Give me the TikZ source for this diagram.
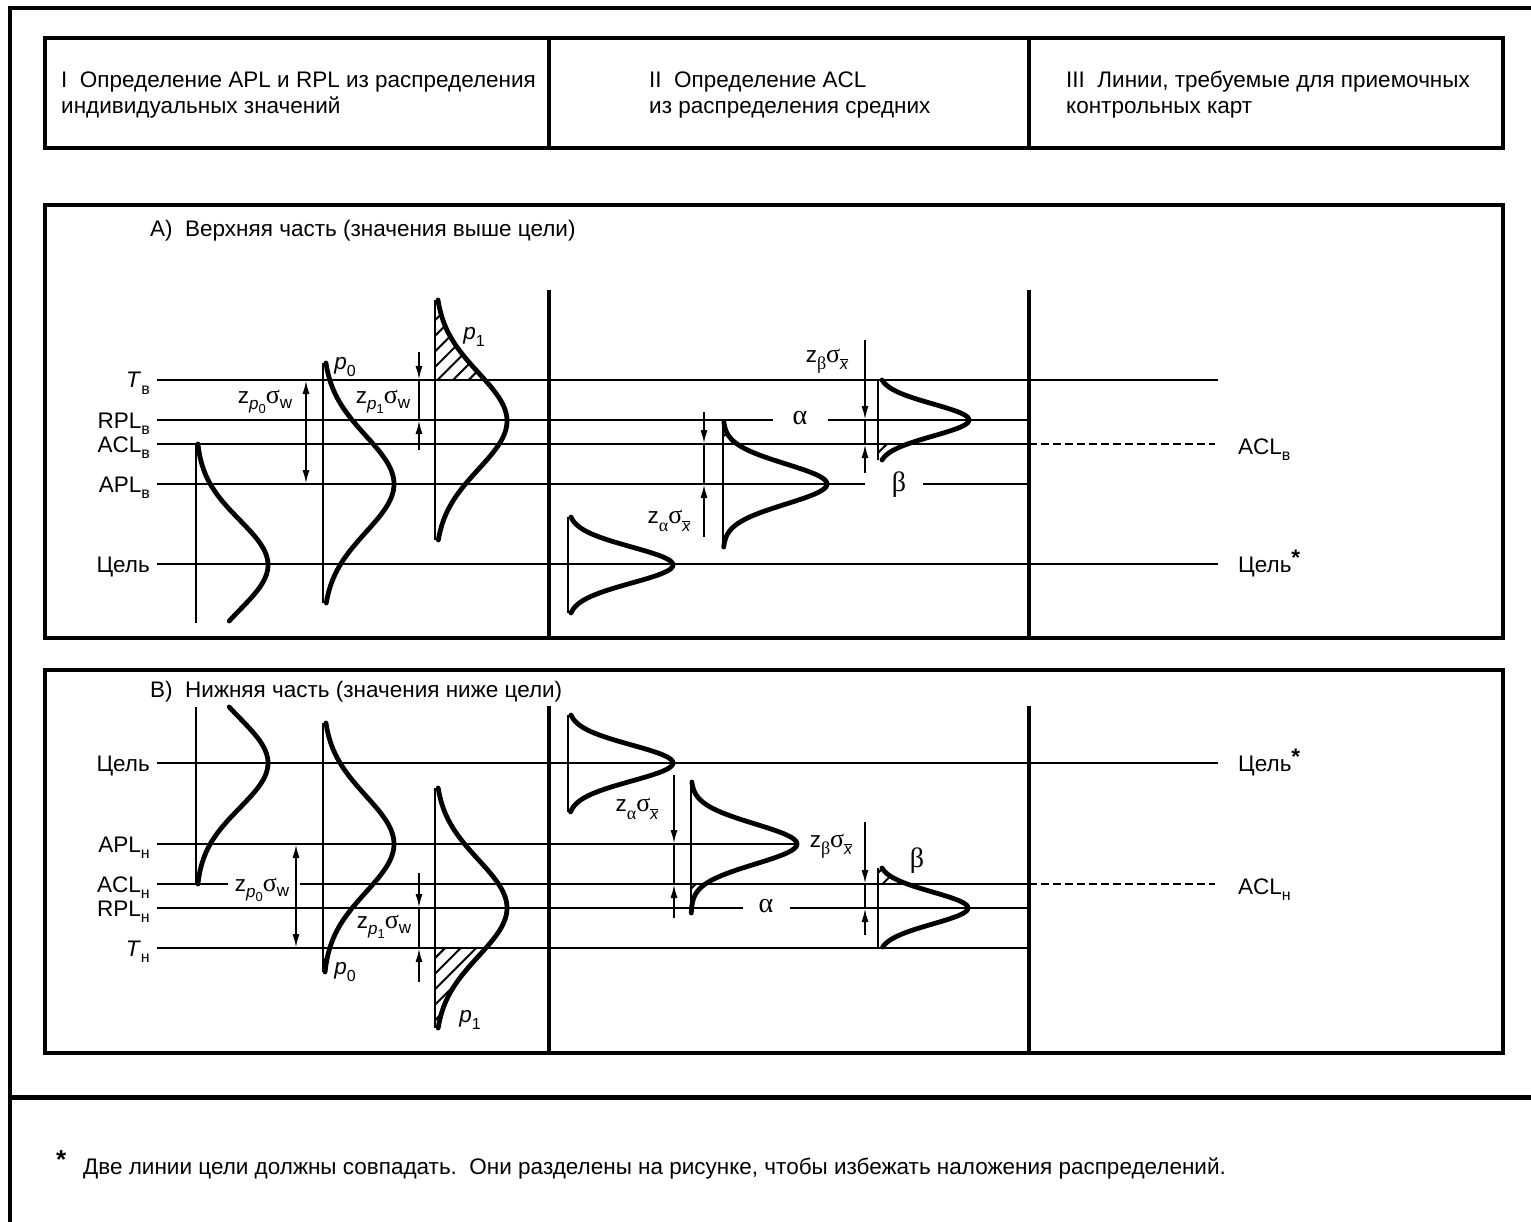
\documentclass[tikz,border=0pt]{standalone}
\usepackage{fontspec}
\setmainfont{Liberation Sans}
\newfontfamily\grkfont{Liberation Serif}
\usetikzlibrary{arrows.meta,patterns.meta}

\newcommand\lsub[1]{\raisebox{-0.28em}{\fontsize{16}{16}\selectfont #1}}
\newcommand\zpsig[1]{z\raisebox{-0.28em}{\fontsize{17}{17}\selectfont\textit{p}\raisebox{-0.25em}{\fontsize{13}{13}\selectfont #1}}{\fontsize{26}{26}\selectfont\grkfont σ}\raisebox{-0.22em}{\fontsize{17}{17}\selectfont w}}
\newcommand\zgsig[1]{z\raisebox{-0.32em}{\fontsize{18}{18}\selectfont\grkfont #1}{\fontsize{26}{26}\selectfont\grkfont σ}\raisebox{-0.32em}{\fontsize{16}{16}\selectfont$\overline{\mbox{\itshape x}}$}}
\newcommand\pl[1]{\textit{p}\lsub{#1}}

\begin{document}
\begin{tikzpicture}[x=1pt,y=-1pt,
  font=\fontsize{22.5}{27}\selectfont,
  lvl/.style={line width=2.5pt},
  frm/.style={line width=4pt},
  crv/.style={line width=4.8pt, line cap=round, line join=round},
  ax/.style={line width=2.5pt},
  hatch/.style={pattern={Lines[angle=45,distance=11pt,line width=2pt]}},
  dim/.style={line width=2pt},
  dimtip/.style={-{Latex[length=14pt,width=7pt]}},
  dbltip/.style={{Latex[length=14pt,width=7pt]}-{Latex[length=14pt,width=7pt]}},
  lab/.style={anchor=base east, inner sep=0pt},
  rlab/.style={anchor=base west, inner sep=0pt},
  txt/.style={anchor=base west, inner sep=0pt},
  gr/.style={font=\fontsize{28}{28}\selectfont\grkfont, inner sep=0pt},
  dl/.style={inner sep=0pt},
  declare function={gs(\a,\b,\c)=exp(-0.5*((\a-\b)/\c)*((\a-\b)/\c));}
]
\useasboundingbox (0,0) rectangle (1531,1222);

% outer frame
\draw[line width=4pt] (10,1222) -- (10,8) -- (1531,8);
\draw[line width=5pt] (10,1097) -- (1531,1097);

% header
\draw[frm] (45,38) rectangle (1503,148);
\draw[frm] (549,38) -- (549,148);
\draw[frm] (1029,38) -- (1029,148);
\node[txt] (h1a) at (61,88) {I\ \ Определение APL и RPL из распределения};
\node[txt] (h1b) at (61,114) {индивидуальных значений};
\node[txt] (h2a) at (649,88) {II\ \ Определение ACL};
\node[txt] (h2b) at (649,114) {из распределения средних};
\node[txt] (h3a) at (1066,88) {III\ \ Линии, требуемые для приемочных};
\node[txt] (h3b) at (1066,114) {контрольных карт};

% ===================== Panel A =====================
\draw[frm] (45,205) rectangle (1503,638);
\draw[frm] (549,290) -- (549,638);
\draw[frm] (1029,290) -- (1029,638);
\node[txt] (ta) at (150,237) {А)\ \ Верхняя часть (значения выше цели)};

% hatches
\fill[hatch] (435,300) -- plot[domain=300:380,samples=30] ({435+72*gs(\x,421,48)},\x) -- (435,380) -- cycle;
\fill[hatch] (723,422) -- plot[domain=422:444,samples=20] ({723+104*gs(\x,484,20)},\x) -- (723,444) -- cycle;
\fill[hatch] (878,444) -- plot[domain=444:460,samples=20] ({878+91*gs(\x,420,16)},\x) -- (878,460) -- cycle;

% level lines
\draw[lvl] (157,380) -- (1218,380);
\draw[lvl] (157,420) -- (773,420);
\draw[lvl] (828,420) -- (1029,420);
\draw[lvl] (157,444) -- (1029,444);
\draw[lvl, dash pattern=on 8pt off 4pt, line width=2pt] (1029,444) -- (1215,444);
\draw[lvl] (157,484) -- (865,484);
\draw[lvl] (923,484) -- (1029,484);
\draw[lvl] (157,564) -- (1218,564);

\node[lab] (tv) at (150,388) {\textit{T}\lsub{в}};
\node[lab] (rv) at (150,428) {RPL\lsub{в}};
\node[lab] (av) at (150,452) {ACL\lsub{в}};
\node[lab] (pv) at (150,492) {APL\lsub{в}};
\node[lab] (cv) at (150,572) {Цель};
\node[rlab] (av2) at (1238,454) {ACL\lsub{в}};
\node[rlab] (cv2) at (1238,572) {Цель\raisebox{0.3em}{\textbf{*}}};

% axes
\draw[ax] (196,444) -- (196,623);
\draw[ax] (323,363) -- (323,603);
\draw[ax] (435,300) -- (435,540);
\draw[ax] (568,517) -- (568,613);
\draw[ax] (723,422) -- (723,547);
\draw[ax] (878,380) -- (878,460);

% curves
\draw[crv] plot[domain=444:621,samples=70] ({196+72*gs(\x,565,45)},\x);
\draw[crv] plot[domain=363:603,samples=80] ({323+71*gs(\x,484,48)},\x);
\draw[crv] plot[domain=300:540,samples=80] ({435+72*gs(\x,421,48)},\x);
\draw[crv] plot[domain=517:613,samples=60] ({568+105*gs(\x,565,18)},\x);
\draw[crv] plot[domain=422:547,samples=70] ({723+104*gs(\x,484,20)},\x);
\draw[crv] plot[domain=380:460,samples=60] ({878+91*gs(\x,420,16)},\x);

% dimension arrows
\draw[dim,dbltip] (306,380) -- (306,484);
\draw[dim,dimtip] (419,352) -- (419,380);
\draw[dim] (419,380) -- (419,420);
\draw[dim,dimtip] (419,450) -- (419,420);
\draw[dim,dimtip] (704,412) -- (704,444);
\draw[dim] (704,444) -- (704,484);
\draw[dim,dimtip] (704,537) -- (704,484);
\draw[dim,dimtip] (865,340) -- (865,420);
\draw[dim] (865,420) -- (865,444);
\draw[dim,dimtip] (865,473) -- (865,444);

\node[dl] (za1) at (265,402) {\zpsig{0}};
\node[dl] (za2) at (383,402) {\zpsig{1}};
\node[dl] (za3) at (669,521) {\zgsig{α}};
\node[dl] (za4) at (827,361) {\zgsig{β}};
\node[dl] (pa0) at (345,367) {\pl{0}};
\node[dl] (pa1) at (474,337) {\pl{1}};
\node[gr] (al1) at (800,418) {α};
\node[gr] (be1) at (899,485) {β};

% ===================== Panel B =====================
\draw[frm] (45,670) rectangle (1503,1053);
\draw[frm] (549,706) -- (549,1053);
\draw[frm] (1029,706) -- (1029,1053);
\node[txt] (tb) at (150,697) {В)\ \ Нижняя часть (значения ниже цели)};

% hatches
\fill[hatch] (323,948) -- plot[domain=948:972,samples=20] ({323+71*gs(\x,844,48)},\x) -- (323,972) -- cycle;
\fill[hatch] (435,948) -- plot[domain=948:1028,samples=30] ({435+72*gs(\x,908,48)},\x) -- (435,1028) -- cycle;
\fill[hatch] (691,884) -- plot[domain=884:913,samples=20] ({691+106*gs(\x,844,20)},\x) -- (691,913) -- cycle;
\fill[hatch] (878,868) -- plot[domain=868:884,samples=20] ({878+90*gs(\x,908,16)},\x) -- (878,884) -- cycle;

% level lines
\draw[lvl] (157,763) -- (1218,763);
\draw[lvl] (157,844) -- (797,844);
\draw[lvl] (157,884) -- (228,884);
\draw[lvl] (300,884) -- (1029,884);
\draw[lvl, dash pattern=on 8pt off 4pt, line width=2pt] (1029,884) -- (1215,884);
\draw[lvl] (157,908) -- (743,908);
\draw[lvl] (790,908) -- (1029,908);
\draw[lvl] (157,948) -- (1029,948);

\node[lab] (cn) at (150,771) {Цель};
\node[lab] (pn) at (150,852) {APL\lsub{н}};
\node[lab] (an) at (150,892) {ACL\lsub{н}};
\node[lab] (rn) at (150,916) {RPL\lsub{н}};
\node[lab] (tn) at (150,956) {\textit{T}\lsub{н}};
\node[rlab] (cn2) at (1238,771) {Цель\raisebox{0.3em}{\textbf{*}}};
\node[rlab] (an2) at (1238,894) {ACL\lsub{н}};

% axes
\draw[ax] (196,707) -- (196,884);
\draw[ax] (323,723) -- (323,972);
\draw[ax] (435,788) -- (435,1028);
\draw[ax] (568,715) -- (568,812);
\draw[ax] (691,782) -- (691,913);
\draw[ax] (878,868) -- (878,947);

% curves
\draw[crv] plot[domain=707:884,samples=70] ({196+72*gs(\x,763,45)},\x);
\draw[crv] plot[domain=723:972,samples=80] ({323+71*gs(\x,844,48)},\x);
\draw[crv] plot[domain=788:1028,samples=80] ({435+72*gs(\x,908,48)},\x);
\draw[crv] plot[domain=715:812,samples=60] ({568+105*gs(\x,763,18)},\x);
\draw[crv] plot[domain=782:913,samples=70] ({691+106*gs(\x,844,20)},\x);
\draw[crv] plot[domain=868:947,samples=60] ({878+90*gs(\x,908,16)},\x);

% dimension arrows
\draw[dim,dbltip] (296,844) -- (296,948);
\draw[dim,dimtip] (419,873) -- (419,908);
\draw[dim] (419,908) -- (419,948);
\draw[dim,dimtip] (419,982) -- (419,948);
\draw[dim,dimtip] (674,775) -- (674,844);
\draw[dim] (674,844) -- (674,884);
\draw[dim,dimtip] (674,918) -- (674,884);
\draw[dim,dimtip] (865,822) -- (865,884);
\draw[dim] (865,884) -- (865,908);
\draw[dim,dimtip] (865,935) -- (865,908);

\node[dl] (zb1) at (262,890) {\zpsig{0}};
\node[dl] (zb2) at (384,927) {\zpsig{1}};
\node[dl] (zb3) at (637,809) {\zgsig{α}};
\node[dl] (zb4) at (831,846) {\zgsig{β}};
\node[dl] (pb0) at (345,972) {\pl{0}};
\node[dl] (pb1) at (470,1020) {\pl{1}};
\node[gr] (al2) at (766,906) {α};
\node[gr] (be2) at (917,861) {β};

% footnote
\node[txt] (fs) at (56,1168) {\fontsize{26}{26}\selectfont\textbf{*}};
\node[txt] (fn) at (83,1174) {Две линии цели должны совпадать.\ \ Они разделены на рисунке, чтобы избежать наложения распределений.};
\end{tikzpicture}
\end{document}
